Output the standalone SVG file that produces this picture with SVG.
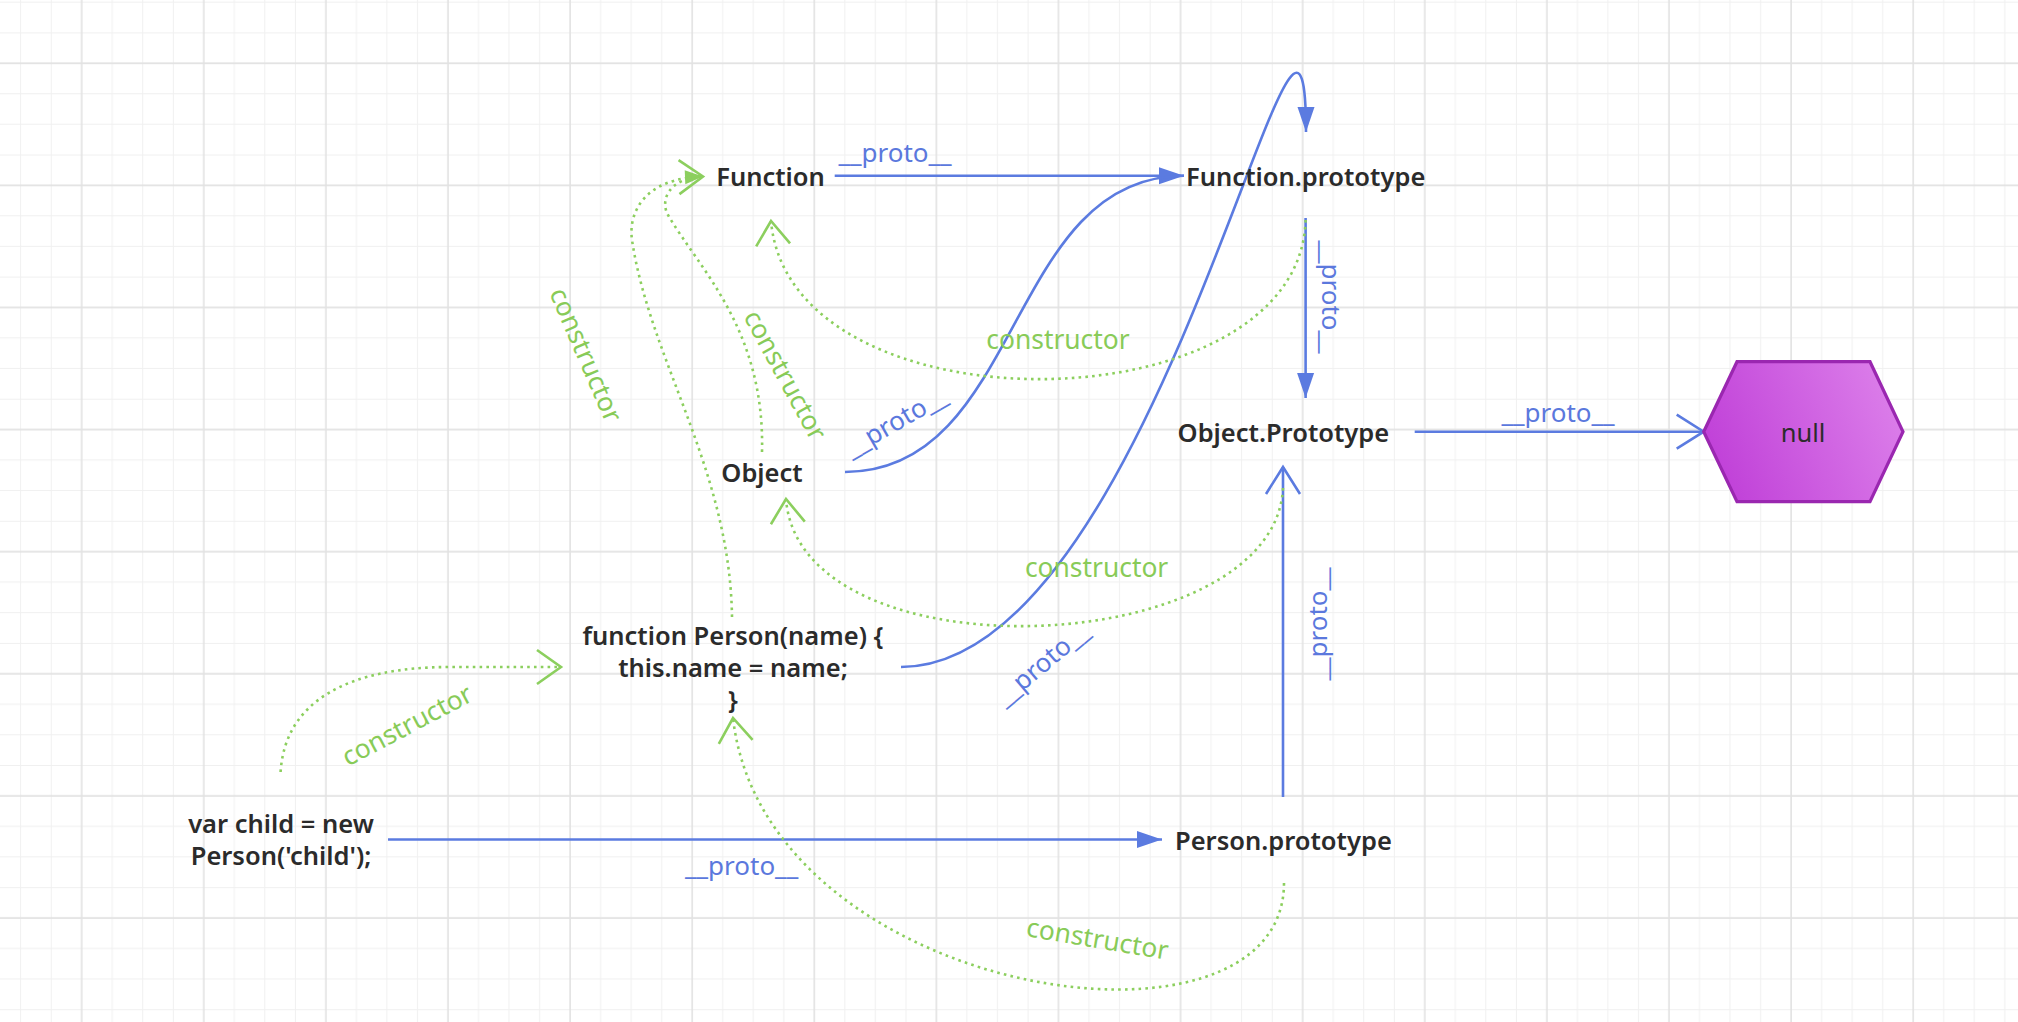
<svg xmlns="http://www.w3.org/2000/svg" width="2018" height="1022" viewBox="0 0 2018 1022">
<defs>
<style>
.node{font-family:"Noto Sans","Open Sans","Liberation Sans",sans-serif;font-weight:600;font-size:25.5px;fill:#2b2b2b;text-anchor:middle}
.nodeN{font-family:"Noto Sans","Open Sans","Liberation Sans",sans-serif;font-weight:400;font-size:25.5px;fill:#2b2b2b;text-anchor:middle}
.lb{font-family:"Noto Sans","Open Sans","Liberation Sans",sans-serif;font-size:26px;fill:#5b78dd;text-anchor:middle}
.lg{font-family:"Noto Sans","Open Sans","Liberation Sans",sans-serif;font-size:26.4px;fill:#88cb58;text-anchor:middle}
.blue{fill:none;stroke:#5b7be0;stroke-width:2.6}
.green{fill:none;stroke:#8ccf5e;stroke-width:2.6;stroke-dasharray:2.6 4.2}
.minor{stroke:#f0f0f0;stroke-width:1}
.major{stroke:#e2e2e2;stroke-width:1.6}
</style>
<pattern id="grid" patternUnits="userSpaceOnUse" x="66.7" y="48.3" width="122.1" height="122.1">
<path class="minor" d="M45.5,0V122.1M76.05,0V122.1M106.6,0V122.1M0,45.5H122.1M0,76.05H122.1M0,106.6H122.1"/>
<path class="major" d="M15,0V122.1M0,15H122.1"/>
</pattern>
<linearGradient id="nullFill" x1="0" y1="0.6" x2="1" y2="0.3">
<stop offset="0" stop-color="#c040d8"/>
<stop offset="1" stop-color="#dc7fea"/>
</linearGradient>
<marker id="arrFillB" markerWidth="26" markerHeight="18" refX="25" refY="9" orient="auto" markerUnits="userSpaceOnUse" overflow="visible"><path d="M0,0.5 L25,9 L0,17.5 z" fill="#5b7be0"/></marker>
<marker id="arrOpenB" markerWidth="30" markerHeight="36" refX="28" refY="17" orient="auto" markerUnits="userSpaceOnUse" overflow="visible"><path d="M1,0 L28,17 L1,34" fill="none" stroke="#5b7be0" stroke-width="2.6"/></marker>
<marker id="arrOpenG" markerWidth="28" markerHeight="36" refX="25" refY="17" orient="auto" markerUnits="userSpaceOnUse" overflow="visible"><path d="M1,0 L25,17 L1,34" fill="none" stroke="#8ccf5e" stroke-width="2.6"/></marker>
<marker id="arrFillG" markerWidth="20" markerHeight="16" refX="18" refY="7" orient="auto" markerUnits="userSpaceOnUse" overflow="visible"><path d="M0,0 L18,7 L0,14 z" fill="#8ccf5e"/></marker>
</defs>
<rect width="2018" height="1022" fill="#ffffff"/>
<rect width="2018" height="1022" fill="url(#grid)"/>

<g id="connectors">
<path class="blue" d="M834.7,175.7 H1184" marker-end="url(#arrFillB)"/>
<path class="blue" d="M845,472 C1023,472 1006,175.7 1184,175.7"/>
<path class="blue" d="M901,667 C1160,667 1306,-150 1306,132" marker-end="url(#arrFillB)"/>
<path class="blue" d="M1305.6,218 V398" marker-end="url(#arrFillB)"/>
<path class="blue" d="M1283,797 V467" marker-end="url(#arrOpenB)"/>
<path class="blue" d="M388,839.5 H1162" marker-end="url(#arrFillB)"/>
<path class="blue" d="M1414.7,431.7 H1703.7" marker-end="url(#arrOpenB)"/>
<path class="green" d="M1305.6,220 C1300,428 790,436 771,221" marker-end="url(#arrOpenG)"/>
<path class="green" d="M1283,488 C1275,660 800,680 786,499" marker-end="url(#arrOpenG)"/>
<path class="green" d="M762,452 C765,330 700,270 668,215 C660,201 668,178 703,176.5" marker-end="url(#arrFillG)"/>
<path class="green" d="M732,617 C730,470 650,360 632,240 C628,212 645,178 703,176.5" marker-end="url(#arrOpenG)"/>
<path class="green" d="M280.6,772 C285,700 350,667 450,667 L561,667" marker-end="url(#arrOpenG)"/>
<path class="green" d="M1284,883 C1284,1075 765,1000 733,718" marker-end="url(#arrOpenG)"/>
<text class="lb" x="895" y="161.5">__proto__</text>
<text class="lb" transform="translate(897.5,425) rotate(-30)" y="5">__proto__</text>
<text class="lb" transform="translate(1327,297) rotate(90)" y="5">__proto__</text>
<text class="lb" transform="translate(1044.4,666.7) rotate(-40)" y="5">__proto__</text>
<text class="lb" transform="translate(1322,624) rotate(-90)" y="5">__proto__</text>
<text class="lb" x="741.6" y="875">__proto__</text>
<text class="lb" x="1558" y="421.7">__proto__</text>
<text class="lg" x="1058" y="349.3">constructor</text>
<text class="lg" x="1096.6" y="576.7">constructor</text>
<text class="lg" transform="translate(583,356) rotate(66.5)" y="6">constructor</text>
<text class="lg" transform="translate(782.5,376.5) rotate(61.4)" y="6">constructor</text>
<text class="lg" transform="translate(408.5,728) rotate(-27.8)" y="6">constructor</text>
<text class="lg" transform="translate(1097,942) rotate(9.5)" y="6">constructor</text>
</g>

<g id="node-function"><text class="node" x="770.5" y="186">Function</text></g>
<g id="node-function-prototype"><text class="node" x="1305.7" y="186">Function.prototype</text></g>
<g id="node-object-prototype"><text class="node" x="1283.4" y="441.7">Object.Prototype</text></g>
<g id="node-object"><text class="node" x="762" y="482.3">Object</text></g>
<g id="node-person-fn"><text class="node" x="733" y="644.5">function Person(name) {</text><text class="node" x="733" y="676.7">this.name = name;</text><text class="node" x="733" y="709">}</text></g>
<g id="node-child"><text class="node" x="281" y="833.3">var child = new</text><text class="node" x="281" y="865">Person('child');</text></g>
<g id="node-person-prototype"><text class="node" x="1283.4" y="850">Person.prototype</text></g>
<g id="node-null"><polygon points="1703.7,431.7 1737,361.7 1870,361.7 1903,431.7 1870,501.7 1737,501.7" fill="url(#nullFill)" stroke="#9a27b0" stroke-width="3.2"/><text class="nodeN" x="1803" y="441.7">null</text></g>
</svg>
